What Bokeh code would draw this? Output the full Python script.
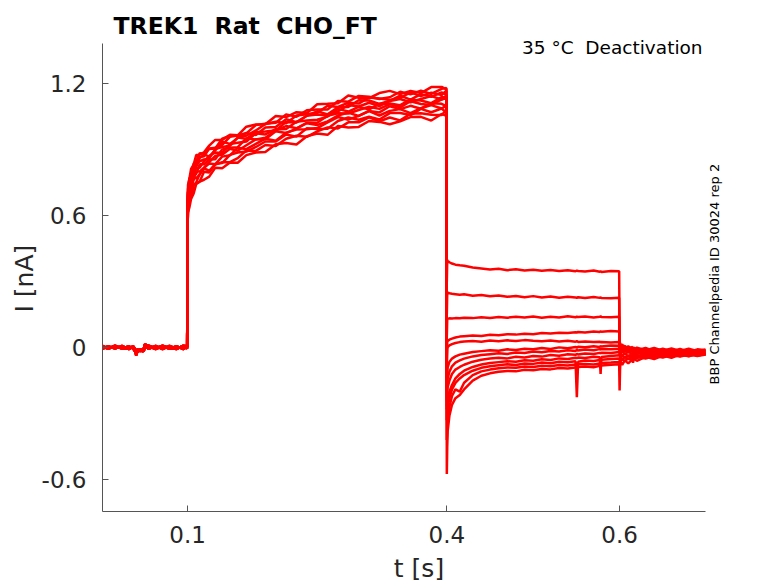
import math
from bokeh.plotting import figure
from bokeh.models import Label, Range1d, FixedTicker, Title
from bokeh.embed import file_html
from bokeh.resources import INLINE

# axis ticks
x_ticks = [0.1, 0.4, 0.6]
x_tick_labels = ["0.1", "0.4", "0.6"]
y_ticks = [-0.6, 0, 0.6, 1.2]
y_tick_labels = ["-0.6", "0", "0.6", "1.2"]

# holding period before the activation step (three overlapping baselines)
t_base = [0.0015, 0.008, 0.016, 0.024, 0.032, 0.037, 0.0395, 0.0405, 0.042, 0.045,
          0.048, 0.0495, 0.0505, 0.055, 0.063, 0.071, 0.079, 0.087, 0.095, 0.0995]
base_a = [0.006, -0.006, 0.007, -0.005, 0.006, -0.004, -0.02, -0.036, -0.015, -0.01,
          -0.018, -0.008, 0.016, 0.006, -0.007, 0.007, -0.006, 0.007, -0.007, 0.004]
base_b = [-0.006, 0.007, -0.005, 0.008, -0.007, 0.004, -0.012, -0.022, -0.02, -0.007,
          -0.015, -0.014, 0.008, -0.006, 0.008, -0.007, 0.008, -0.005, 0.007, -0.004]
base_c = [0.008, -0.004, 0.009, -0.003, -0.005, 0.007, -0.008, -0.016, -0.008, -0.017,
          -0.006, -0.004, 0.012, 0.009, -0.003, 0.009, -0.002, -0.007, 0.009, 0.006]

# activation step 0.1 - 0.4 s, one row per sweep
t_act = [0.1, 0.1005, 0.102, 0.104, 0.107, 0.11, 0.114, 0.119, 0.125, 0.132, 0.14, 0.149,
         0.158, 0.168, 0.179, 0.19, 0.202, 0.214, 0.226, 0.238, 0.25, 0.262, 0.274, 0.286,
         0.298, 0.31, 0.322, 0.334, 0.346, 0.358, 0.37, 0.382, 0.394, 0.3995]
act_sweeps = [
    [0.680, 0.740, 0.765, 0.812, 0.832, 0.875, 0.877, 0.888, 0.918, 0.944, 0.944, 0.967, 0.965, 1.004, 1.014, 1.015, 1.053,
     1.048, 1.070, 1.066, 1.106, 1.108, 1.111, 1.146, 1.136, 1.134, 1.157, 1.167, 1.152, 1.167, 1.157, 1.184, 1.185, 1.174],
    [0.660, 0.720, 0.768, 0.778, 0.836, 0.846, 0.884, 0.881, 0.903, 0.905, 0.950, 0.962, 0.965, 0.974, 1.012, 1.017, 1.022,
     1.060, 1.049, 1.079, 1.082, 1.082, 1.121, 1.118, 1.144, 1.140, 1.130, 1.138, 1.163, 1.151, 1.168, 1.153, 1.176, 1.180],
    [0.665, 0.702, 0.762, 0.783, 0.806, 0.849, 0.866, 0.870, 0.905, 0.908, 0.921, 0.958, 0.964, 0.963, 0.987, 1.016, 1.027,
     1.020, 1.055, 1.061, 1.067, 1.099, 1.094, 1.113, 1.109, 1.137, 1.132, 1.126, 1.135, 1.160, 1.143, 1.159, 1.148, 1.168],
    [0.644, 0.705, 0.749, 0.757, 0.812, 0.822, 0.862, 0.877, 0.869, 0.896, 0.936, 0.926, 0.953, 0.976, 0.966, 1.000, 1.003,
     1.038, 1.025, 1.054, 1.074, 1.060, 1.092, 1.094, 1.124, 1.123, 1.108, 1.122, 1.145, 1.127, 1.152, 1.140, 1.160, 1.150],
    [0.636, 0.704, 0.721, 0.763, 0.785, 0.830, 0.847, 0.855, 0.859, 0.902, 0.912, 0.917, 0.955, 0.949, 0.979, 0.982, 0.987,
     1.026, 1.023, 1.054, 1.060, 1.055, 1.073, 1.103, 1.096, 1.113, 1.098, 1.121, 1.130, 1.115, 1.130, 1.143, 1.128, 1.146],
    [0.620, 0.695, 0.718, 0.741, 0.803, 0.814, 0.818, 0.847, 0.871, 0.887, 0.885, 0.925, 0.931, 0.937, 0.974, 0.969, 0.993,
     0.994, 1.027, 1.032, 1.036, 1.050, 1.085, 1.073, 1.094, 1.083, 1.108, 1.110, 1.102, 1.127, 1.123, 1.111, 1.139, 1.136],
    [0.614, 0.672, 0.695, 0.749, 0.784, 0.790, 0.833, 0.833, 0.855, 0.856, 0.901, 0.908, 0.911, 0.951, 0.946, 0.954, 0.987,
     1.007, 0.997, 1.022, 1.022, 1.054, 1.065, 1.064, 1.080, 1.095, 1.085, 1.107, 1.092, 1.120, 1.107, 1.103, 1.128, 1.134],
    [0.618, 0.664, 0.686, 0.736, 0.764, 0.801, 0.801, 0.818, 0.843, 0.872, 0.876, 0.904, 0.895, 0.920, 0.947, 0.947, 0.983,
     0.975, 0.995, 1.020, 1.012, 1.028, 1.055, 1.068, 1.053, 1.076, 1.069, 1.097, 1.084, 1.099, 1.086, 1.111, 1.108, 1.098],
    [0.603, 0.633, 0.689, 0.708, 0.770, 0.770, 0.786, 0.817, 0.837, 0.834, 0.868, 0.874, 0.909, 0.902, 0.926, 0.950, 0.940,
     0.977, 0.991, 0.992, 0.998, 1.024, 1.048, 1.036, 1.053, 1.075, 1.055, 1.076, 1.084, 1.066, 1.088, 1.102, 1.087, 1.100],
    [0.593, 0.635, 0.663, 0.718, 0.738, 0.751, 0.789, 0.814, 0.804, 0.834, 0.839, 0.876, 0.887, 0.891, 0.912, 0.937, 0.937,
     0.969, 0.959, 0.997, 0.994, 0.995, 1.030, 1.046, 1.036, 1.049, 1.037, 1.066, 1.066, 1.057, 1.085, 1.070, 1.087, 1.068],
    [0.570, 0.610, 0.673, 0.682, 0.737, 0.745, 0.755, 0.799, 0.796, 0.832, 0.843, 0.843, 0.861, 0.896, 0.894, 0.921, 0.916,
     0.949, 0.963, 0.958, 0.983, 1.001, 0.996, 1.024, 1.024, 1.047, 1.029, 1.046, 1.033, 1.063, 1.065, 1.058, 1.057, 1.080],
    [0.560, 0.616, 0.636, 0.675, 0.701, 0.744, 0.754, 0.763, 0.777, 0.817, 0.815, 0.841, 0.840, 0.875, 0.887, 0.889, 0.924,
     0.930, 0.923, 0.961, 0.973, 0.967, 1.007, 1.000, 1.003, 1.030, 1.026, 1.015, 1.029, 1.048, 1.049, 1.032, 1.062, 1.053],
]

# deactivation step 0.4 - 0.6 s
t_deact = [0.4, 0.4005, 0.401, 0.403, 0.406, 0.41, 0.415, 0.42, 0.43, 0.44, 0.45, 0.46, 0.47, 0.48, 0.49,
           0.5, 0.51, 0.52, 0.53, 0.54, 0.549, 0.5505, 0.552, 0.56, 0.57, 0.577, 0.578, 0.579, 0.59, 0.5995]
deact_sweeps = [
    [0.30, 0.398, 0.394, 0.388, 0.382, 0.377, 0.374, 0.372, 0.364, 0.360, 0.355, 0.358, 0.352, 0.356, 0.350,
     0.354, 0.349, 0.353, 0.348, 0.352, 0.347, 0.350, 0.348, 0.346, 0.350, 0.345, 0.347, 0.344, 0.348, 0.347],
    [0.15, 0.252, 0.250, 0.247, 0.245, 0.243, 0.240, 0.242, 0.236, 0.239, 0.233, 0.237, 0.231, 0.235, 0.229,
     0.234, 0.228, 0.232, 0.227, 0.231, 0.228, 0.226, 0.229, 0.225, 0.230, 0.226, 0.228, 0.225, 0.224, 0.227],
    [0.05, 0.130, 0.131, 0.133, 0.132, 0.134, 0.133, 0.136, 0.134, 0.138, 0.135, 0.139, 0.136, 0.140, 0.137,
     0.141, 0.136, 0.140, 0.137, 0.142, 0.138, 0.140, 0.139, 0.141, 0.137, 0.140, 0.142, 0.139, 0.138, 0.140],
    [-0.05, 0.025, 0.030, 0.036, 0.041, 0.046, 0.050, 0.052, 0.055, 0.053, 0.058, 0.056, 0.061, 0.059, 0.063,
     0.061, 0.066, 0.064, 0.068, 0.066, 0.070, 0.068, 0.071, 0.069, 0.073, 0.071, 0.074, 0.072, 0.075, 0.073],
    [-0.1, -0.005, 0.002, 0.010, 0.016, 0.021, 0.025, 0.028, 0.030, 0.027, 0.032, 0.029, 0.033, 0.030, 0.034,
     0.031, 0.029, 0.032, 0.028, 0.031, 0.027, 0.029, 0.026, 0.028, 0.025, 0.027, 0.024, 0.026, 0.023, 0.025],
    [-0.15, -0.12, -0.09, -0.065, -0.05, -0.04, -0.032, -0.028, -0.02, -0.016, -0.012, -0.014, -0.008, -0.011, -0.005,
     -0.008, -0.002, -0.006, 0.001, -0.003, 0.003, 0.0, 0.004, 0.002, 0.006, 0.003, 0.007, 0.005, 0.010, 0.008],
    [-0.2, -0.17, -0.14, -0.11, -0.085, -0.068, -0.058, -0.05, -0.04, -0.034, -0.03, -0.026, -0.029, -0.022, -0.025,
     -0.018, -0.021, -0.015, -0.018, -0.012, -0.015, -0.011, -0.013, -0.009, -0.012, -0.007, -0.009, -0.006, -0.008, -0.005],
    [-0.24, -0.21, -0.18, -0.15, -0.12, -0.1, -0.088, -0.078, -0.064, -0.055, -0.05, -0.046, -0.049, -0.042, -0.045,
     -0.038, -0.041, -0.034, -0.037, -0.03, -0.033, -0.029, -0.031, -0.027, -0.029, -0.024, -0.026, -0.023, -0.025, -0.02],
    [-0.28, -0.26, -0.23, -0.2, -0.17, -0.14, -0.12, -0.105, -0.088, -0.077, -0.07, -0.066, -0.062, -0.064, -0.058,
     -0.06, -0.053, -0.056, -0.049, -0.052, -0.046, -0.048, -0.045, -0.047, -0.042, -0.044, -0.12, -0.043, -0.038, -0.035],
    [-0.33, -0.3, -0.27, -0.23, -0.19, -0.16, -0.14, -0.125, -0.105, -0.092, -0.085, -0.08, -0.076, -0.079, -0.072,
     -0.074, -0.068, -0.071, -0.064, -0.067, -0.062, -0.226, -0.064, -0.059, -0.061, -0.056, -0.058, -0.055, -0.052, -0.05],
    [-0.42, -0.38, -0.33, -0.27, -0.22, -0.19, -0.2, -0.16, -0.125, -0.108, -0.1, -0.094, -0.09, -0.092, -0.086,
     -0.088, -0.082, -0.085, -0.079, -0.081, -0.077, -0.079, -0.076, -0.074, -0.077, -0.072, -0.074, -0.07, -0.068, -0.066],
    [-0.575, -0.45, -0.38, -0.31, -0.26, -0.23, -0.215, -0.19, -0.15, -0.128, -0.117, -0.11, -0.106, -0.108, -0.101,
     -0.103, -0.097, -0.099, -0.093, -0.095, -0.09, -0.092, -0.088, -0.086, -0.089, -0.083, -0.085, -0.081, -0.078, -0.076],
]

# back to holding after 0.6 s
t_tail = [0.6, 0.6005, 0.601, 0.603, 0.606, 0.61, 0.615, 0.6155, 0.616, 0.62, 0.63, 0.64, 0.65, 0.66,
          0.67, 0.68, 0.69, 0.6995]
tail_sweeps = [
    [0.02, 0.022, 0.008, 0.014, -0.002, 0.006, -0.008, 0.002, -0.01, 0.0, -0.012, -0.002, -0.014, -0.004, -0.015, -0.005, -0.016, -0.008],
    [0.01, 0.004, 0.014, 0.0, 0.008, -0.006, 0.003, -0.01, 0.0, -0.012, -0.002, -0.016, -0.005, -0.018, -0.006, -0.02, -0.008, -0.012],
    [0.005, 0.008, -0.004, 0.004, -0.008, 0.0, -0.012, -0.003, -0.014, -0.004, -0.016, -0.006, -0.018, -0.008, -0.02, -0.01, -0.021, -0.015],
    [0.0, -0.006, 0.004, -0.01, -0.002, -0.014, -0.004, -0.016, -0.006, -0.018, -0.008, -0.02, -0.009, -0.022, -0.01, -0.024, -0.012, -0.017],
    [-0.005, 0.0, -0.012, -0.004, -0.016, -0.008, -0.019, -0.01, -0.021, -0.012, -0.023, -0.013, -0.024, -0.014, -0.026, -0.015, -0.027, -0.02],
    [-0.01, -0.016, -0.006, -0.019, -0.01, -0.022, -0.012, -0.024, -0.014, -0.026, -0.015, -0.028, -0.016, -0.029, -0.017, -0.03, -0.018, -0.023],
    [-0.02, -0.014, -0.026, -0.017, -0.029, -0.019, -0.031, -0.02, -0.032, -0.021, -0.033, -0.022, -0.034, -0.022, -0.034, -0.023, -0.035, -0.026],
    [-0.03, -0.036, -0.024, -0.038, -0.026, -0.04, -0.027, -0.07, -0.028, -0.04, -0.026, -0.038, -0.025, -0.036, -0.024, -0.035, -0.023, -0.028],
    [-0.04, -0.034, -0.046, -0.036, -0.047, -0.036, -0.046, -0.034, -0.045, -0.033, -0.043, -0.031, -0.04, -0.029, -0.038, -0.027, -0.036, -0.029],
    [-0.05, -0.056, -0.044, -0.055, -0.042, -0.053, -0.04, -0.05, -0.038, -0.047, -0.035, -0.043, -0.032, -0.04, -0.03, -0.038, -0.028, -0.03],
    [-0.06, -0.054, -0.064, -0.052, -0.061, -0.049, -0.058, -0.046, -0.054, -0.042, -0.05, -0.038, -0.045, -0.034, -0.041, -0.031, -0.038, -0.031],
    [-0.195, -0.1, -0.062, -0.078, -0.058, -0.072, -0.052, -0.066, -0.048, -0.06, -0.042, -0.052, -0.036, -0.046, -0.032, -0.04, -0.028, -0.033],
]

# visible axis extents
x_lo, x_hi = 0.0015, 0.6995
y_lo, y_hi = -0.745, 1.383

# pixel scale of the trace area, px per s and px per nA
sx, sy = 864.0, 220.0
frame_w, frame_h = 633, 507
x_end = x_lo + frame_w / sx          # room on the right for the vertical note
y_top = y_lo + frame_h / sy          # room on top for the title

p = figure(frame_width=frame_w, frame_height=frame_h,
           x_range=Range1d(x_lo, x_end), y_range=Range1d(y_lo, y_top),
           output_backend="svg", toolbar_location=None,
           min_border_left=102, min_border_right=30, min_border_top=4, min_border_bottom=68)
p.grid.visible = False
p.outline_line_color = None
p.background_fill_color = "white"
p.border_fill_color = "white"

bases = [base_a, base_b, base_c]
for i in range(len(act_sweeps)):
    xs = t_base + t_act + t_deact + t_tail
    ys = bases[i % 3] + act_sweeps[i] + deact_sweeps[i] + tail_sweeps[i]
    p.line(xs, ys, line_color="#ff0000", line_width=2.5)

for ax in (p.xaxis, p.yaxis):
    ax.axis_line_color = "#555555"
    ax.major_tick_line_color = "#555555"
    ax.major_tick_in = 6
    ax.major_tick_out = 0
    ax.minor_tick_line_color = None
    ax.major_label_text_font = "DejaVu Sans"
    ax.major_label_text_font_size = "23px"
    ax.major_label_text_color = "#262626"
    ax.axis_label_text_font = "DejaVu Sans"
    ax.axis_label_text_font_size = "25px"
    ax.axis_label_text_font_style = "normal"
    ax.axis_label_text_color = "#262626"

p.xaxis.bounds = (x_lo, x_hi)
p.xaxis.ticker = FixedTicker(ticks=x_ticks)
p.xaxis.major_label_overrides = dict(zip(x_ticks, x_tick_labels))
p.xaxis.major_label_standoff = 14
p.xaxis.axis_label = "t [s]"
p.xaxis.axis_label_standoff = 8

p.yaxis.bounds = (y_lo, y_hi)
p.yaxis.ticker = FixedTicker(ticks=y_ticks)
p.yaxis.major_label_overrides = dict(zip(y_ticks, y_tick_labels))
p.yaxis.major_label_standoff = 16

# y label as a side title so it can be centred on the axis line, not the frame
p.add_layout(Title(text="I [nA]", align="left", offset=199, standoff=0,
                   text_font="DejaVu Sans", text_font_size="25px", text_font_style="normal",
                   text_color="#262626"), "left")

p.add_layout(Label(x=x_lo + 11 / sx, y=y_hi + 17 / sy, text="TREK1\u00a0 Rat\u00a0 CHO_FT",
                   text_font="DejaVu Sans", text_font_style="bold", text_font_size="23.5px",
                   text_color="black", text_align="left", text_baseline="alphabetic"))
p.add_layout(Label(x=x_hi - 3 / sx, y=y_hi - 4 / sy, text="35 °C\u00a0 Deactivation",
                   text_font="DejaVu Sans", text_font_size="18.5px",
                   text_color="black", text_align="right", text_baseline="alphabetic"))
p.add_layout(Label(x=x_hi + 9 / sx, y=0.334, text="BBP Channelpedia ID 30024 rep 2",
                   angle=math.pi / 2, text_font="DejaVu Sans", text_font_size="13px",
                   text_color="black", text_align="center", text_baseline="alphabetic"))

open("out.html", "w").write(file_html(p, INLINE))
